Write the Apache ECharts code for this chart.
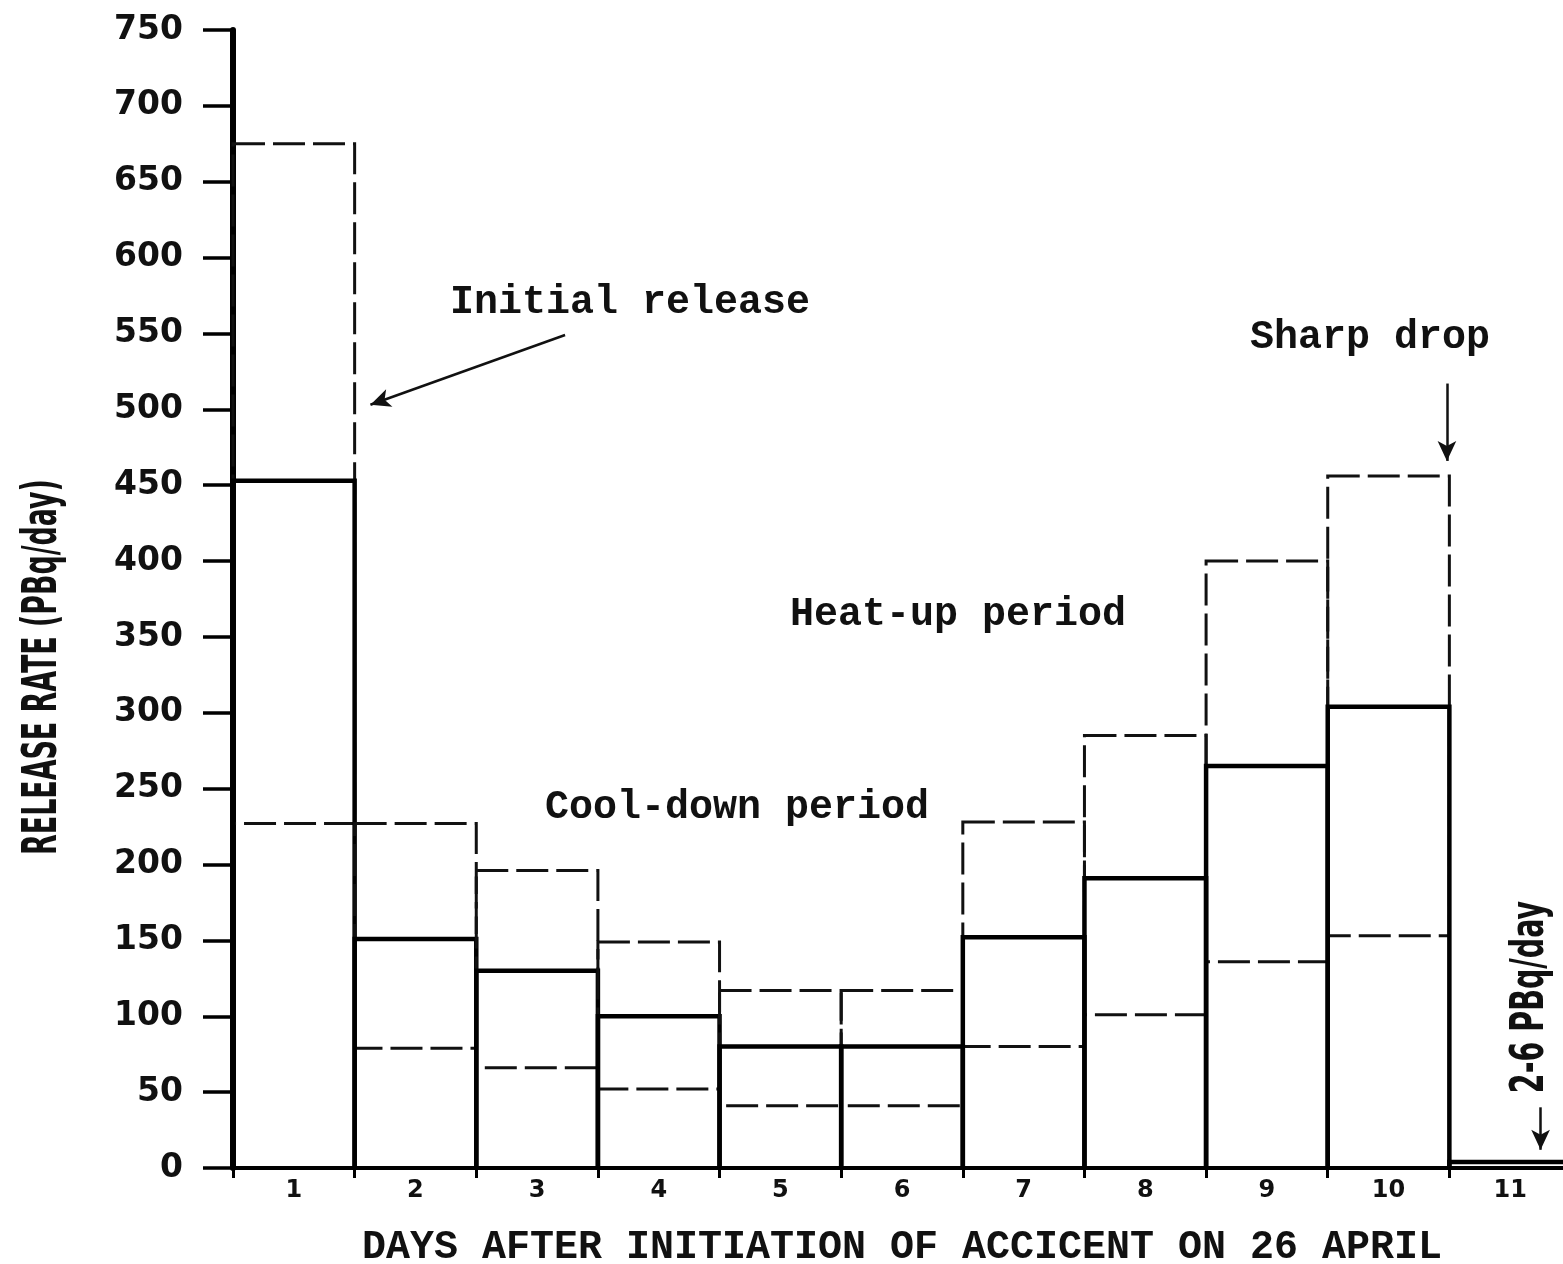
<!DOCTYPE html>
<html>
<head>
<meta charset="utf-8">
<script src="https://cdn.jsdelivr.net/npm/echarts@6/dist/echarts.min.js"></script>
<style>
  html, body { margin: 0; padding: 0; background: #fff; }
  #chart { width: 1563px; height: 1264px; }
</style>
</head>
<body>
<div id="chart"></div>
<script>
// days after the accident (one bin per day)
var days = ['1', '2', '3', '4', '5', '6', '7', '8', '9', '10', '11'];
// release rate, PBq/day
var central = [453, 151, 130, 100, 80, 80, 152, 191, 265, 304, 4];
var upper   = [675, 227, 196, 149, 117, 117, 228, 285, 400, 456, null];
var lower   = [227, 79, 66, 52, 41, 41, 80, 101, 136, 153, null];
var yTicks = { min: 0, max: 750, step: 50 };

var typeFont = '"Liberation Mono", "DejaVu Sans Mono", monospace';

var seriesData = days.map(function (d, i) {
    return [i, lower[i] == null ? '-' : lower[i], central[i], upper[i] == null ? '-' : upper[i]];
});

function renderDay(params, api) {
    var i = api.value(0);
    var lo = api.value(1), mid = api.value(2), hi = api.value(3);
    var x0 = api.coord([i, 0])[0];
    var x1 = api.coord([i + 1, 0])[0];
    var yBase = api.coord([i, 0])[1];
    var yMid = api.coord([i, mid])[1];
    var children = [];
    if (!isNaN(lo) && !isNaN(hi)) {
        var yLo = api.coord([i, lo])[1];
        var yHi = api.coord([i, hi])[1];
        children.push({
            type: 'rect',
            shape: { x: x0, y: yHi, width: x1 - x0, height: yLo - yHi },
            style: { fill: 'none', stroke: '#111', lineWidth: 3, lineDash: [32, 8] }
        });
    }
    children.push({
        type: 'polyline',
        shape: { points: [[x0, yBase], [x0, yMid], [x1, yMid], [x1, yBase]] },
        style: { fill: 'none', stroke: '#000', lineWidth: 4.5 }
    });
    return { type: 'group', children: children };
}

var myChart = echarts.init(document.getElementById('chart'));

var option = {
    backgroundColor: '#fff',
    animation: false,
    grid: { left: 233, right: -8, top: 30, bottom: 96, containLabel: false, outerBoundsMode: 'none' },
    xAxis: [
        {
            type: 'value', min: 0, max: 11, interval: 1,
            axisLine: { show: true, lineStyle: { color: '#000', width: 4 } },
            axisTick: { show: true, inside: false, length: 10, lineStyle: { color: '#000', width: 3 } },
            axisLabel: { show: false },
            splitLine: { show: false },
            name: 'DAYS AFTER INITIATION OF ACCICENT ON 26 APRIL',
            nameLocation: 'middle',
            nameGap: 60,
            nameTextStyle: { fontFamily: typeFont, fontWeight: 'bold', fontSize: 40, color: '#111' }
        },
        {
            type: 'category', data: days, position: 'bottom', boundaryGap: true,
            axisLine: { show: false }, axisTick: { show: false },
            axisLabel: { margin: 11, fontFamily: 'DejaVu Sans', fontWeight: 'bold', fontSize: 24, color: '#111' },
            splitLine: { show: false }
        }
    ],
    yAxis: {
        type: 'value', min: yTicks.min, max: yTicks.max, interval: yTicks.step,
        axisLine: { show: true, lineStyle: { color: '#000', width: 6 } },
        axisTick: { show: true, inside: false, length: 30, lineStyle: { color: '#000', width: 3.5 } },
        axisLabel: { margin: 50, fontFamily: 'DejaVu Sans', fontWeight: 'bold', fontSize: 33, color: '#111' },
        splitLine: { show: false }
    },
    series: [
        {
            type: 'custom',
            xAxisIndex: 0,
            renderItem: renderDay,
            encode: { x: 0, y: [1, 2, 3] },
            data: seriesData,
            z: 3
        },
        {
            type: 'line',
            xAxisIndex: 0,
            data: [],
            silent: true,
            markLine: {
                silent: true,
                animation: false,
                label: { show: false },
                lineStyle: { color: '#111', type: 'solid', width: 2.5 },
                symbolSize: [14, 20],
                data: [
                    [{ coord: [2.73, 549], symbol: 'none' }, { coord: [1.13, 503], symbol: 'arrow' }],
                    [{ coord: [9.98, 517], symbol: 'none' }, { coord: [9.98, 466], symbol: 'arrow' }],
                    [{ coord: [10.75, 40], symbol: 'none' }, { coord: [10.75, 12], symbol: 'arrow' }]
                ]
            }
        }
    ],
    graphic: [
        { type: 'text', x: 44, y: 667, rotation: Math.PI / 2, scaleX: 0.56,
          style: { text: 'RELEASE RATE (PBq/day)', font: 'bold 48px "DejaVu Sans"', fill: '#111',
                   textAlign: 'center', textVerticalAlign: 'middle' } },
        { type: 'text', x: 450, y: 303,
          style: { text: 'Initial release', font: 'bold 40px ' + typeFont, fill: '#111', textVerticalAlign: 'middle' } },
        { type: 'text', x: 1250, y: 338,
          style: { text: 'Sharp drop', font: 'bold 40px ' + typeFont, fill: '#111', textVerticalAlign: 'middle' } },
        { type: 'text', x: 790, y: 615,
          style: { text: 'Heat-up period', font: 'bold 40px ' + typeFont, fill: '#111', textVerticalAlign: 'middle' } },
        { type: 'text', x: 545, y: 808,
          style: { text: 'Cool-down period', font: 'bold 40px ' + typeFont, fill: '#111', textVerticalAlign: 'middle' } },
        { type: 'text', x: 1531, y: 997, rotation: Math.PI / 2, scaleX: 0.62,
          style: { text: '2-6 PBq/day', font: 'bold 46px "DejaVu Sans"', fill: '#111',
                   textAlign: 'center', textVerticalAlign: 'middle' } }
    ]
};

myChart.setOption(option);
</script>
</body>
</html>
